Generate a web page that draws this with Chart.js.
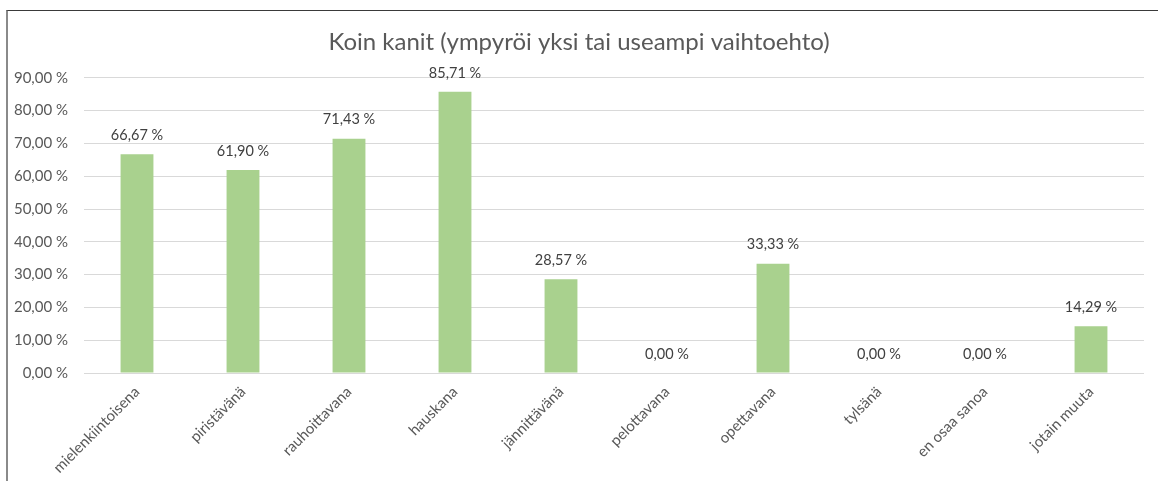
<!DOCTYPE html>
<html>
<head>
<meta charset="utf-8">
<script src="https://cdn.jsdelivr.net/npm/chart.js@4"></script>
<style>
  html, body { margin: 0; padding: 0; background: #fff; overflow: hidden; }
  #wrap { position: relative; width: 1158px; height: 481px; }
  #frame { position: absolute; left: 6px; top: 10px; width: 1400px; height: 600px;
           border-top: 1px solid #3a3a3a; border-left: 2px solid #8a8a8a; }
  canvas { position: absolute; left: 0; top: 0; }
</style>
</head>
<body>
<div id="wrap">
  <div id="frame"></div>
  <canvas id="myChart" width="1158" height="481"></canvas>
</div>
<script>
const kategoriat = ['mielenkiintoisena', 'piristävänä', 'rauhoittavana', 'hauskana', 'jännittävänä',
                    'pelottavana', 'opettavana', 'tylsänä', 'en osaa sanoa', 'jotain muuta'];
const arvot = [66.67, 61.90, 71.43, 85.71, 28.57, 0, 33.33, 0, 0, 14.29];
const otsikko = 'Koin kanit (ympyröi yksi tai useampi vaihtoehto)';

function prosentti(v) {
    return Number(v).toFixed(2).replace('.', ',') + ' %';
}

// arvot pylväiden päälle
const arvoLabelit = {
    id: 'arvoLabelit',
    afterDatasetsDraw(chart) {
        const ctx = chart.ctx;
        const meta = chart.getDatasetMeta(0);
        ctx.save();
        ctx.font = '14.5px Lato';
        ctx.fillStyle = '#404040';
        ctx.textAlign = 'center';
        ctx.textBaseline = 'middle';
        meta.data.forEach((bar, i) => {
            ctx.fillText(prosentti(arvot[i]), bar.x, bar.y - 19);
        });
        ctx.restore();
    }
};

const ctx = document.getElementById('myChart').getContext('2d');
const myChart = new Chart(ctx, {
    type: 'bar',
    data: {
        labels: kategoriat,
        datasets: [{
            data: arvot,
            backgroundColor: '#a9d18e',
            borderWidth: 0,
            categoryPercentage: 1,
            barPercentage: 0.31
        }]
    },
    options: {
        responsive: false,
        animation: false,
        layout: { padding: { left: 14, right: 14, top: 0, bottom: 0 } },
        plugins: {
            legend: { display: false },
            tooltip: { enabled: false },
            title: {
                display: true,
                text: otsikko,
                color: '#595959',
                font: { family: 'Lato', size: 24, weight: 'normal' },
                padding: { top: 28, bottom: 21 }
            }
        },
        scales: {
            y: {
                min: 0,
                max: 90,
                ticks: {
                    stepSize: 10,
                    padding: 16,
                    color: '#595959',
                    font: { family: 'Lato', size: 15 },
                    callback: v => prosentti(v)
                },
                grid: { color: '#d9d9d9', drawTicks: false },
                border: { display: false },
                afterFit: s => { s.width = 70; }
            },
            x: {
                ticks: {
                    minRotation: 45,
                    maxRotation: 45,
                    padding: 2,
                    color: '#595959',
                    font: { family: 'Lato', size: 15 }
                },
                grid: { display: false },
                border: { display: false },
                afterFit: s => { s.height = 108; }
            }
        }
    },
    plugins: [arvoLabelit]
});
</script>
</body>
</html>
